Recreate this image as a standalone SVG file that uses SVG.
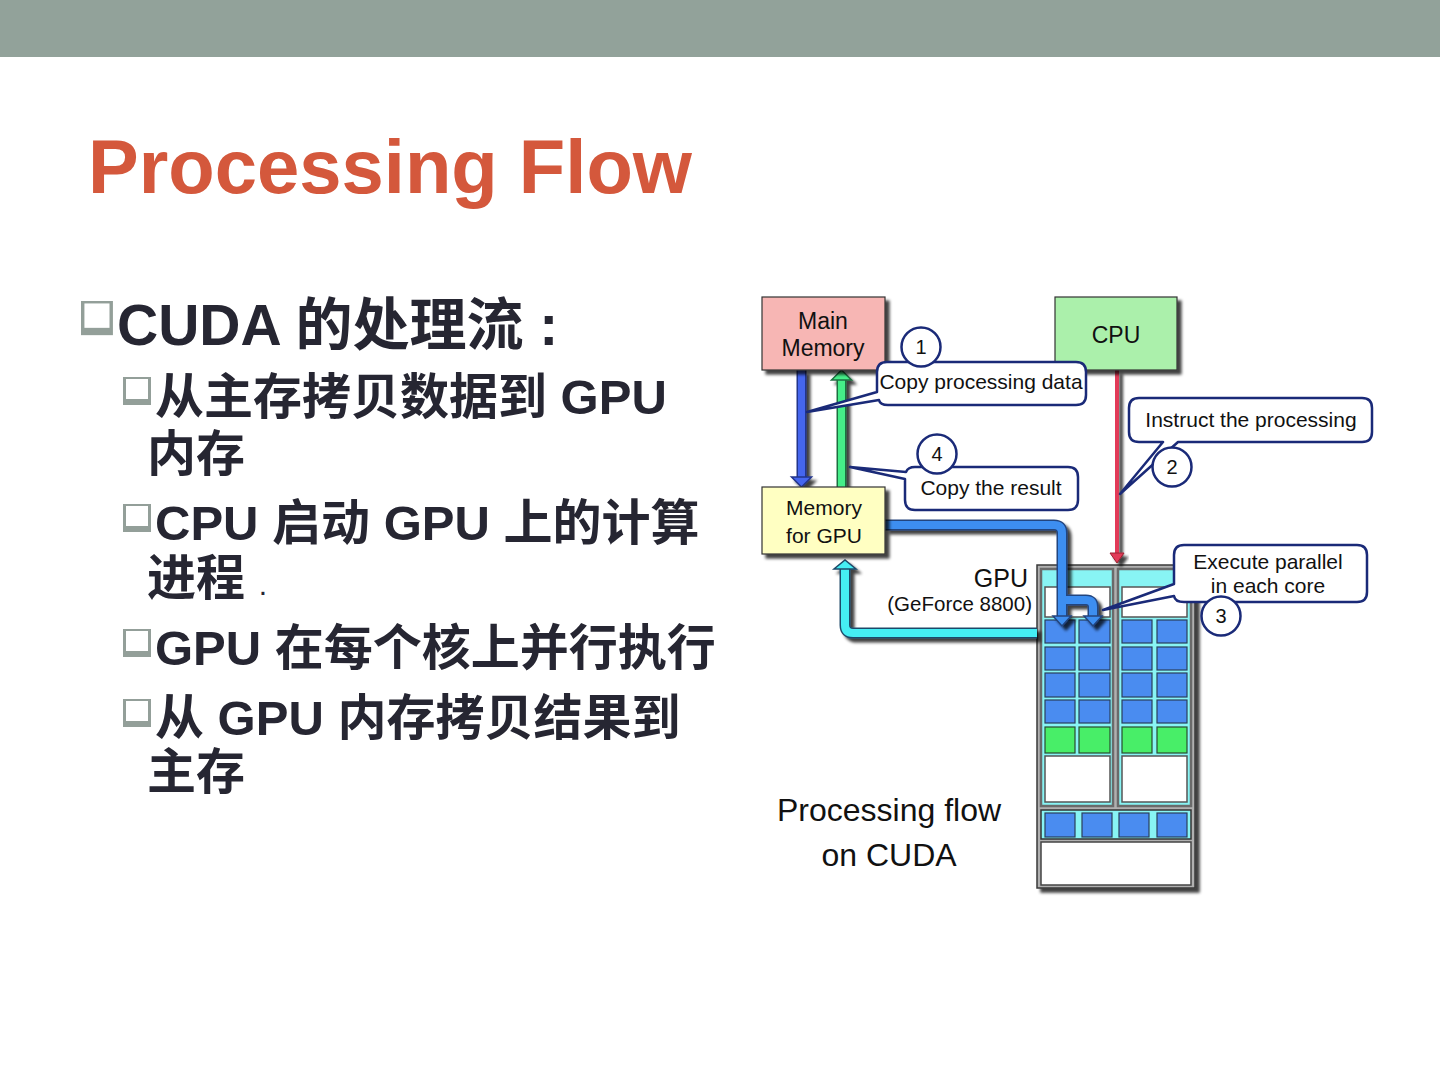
<svg xmlns="http://www.w3.org/2000/svg" width="1440" height="1080" viewBox="0 0 1440 1080">
<defs>
<filter id="sh" x="-20%" y="-20%" width="150%" height="150%">
<feGaussianBlur in="SourceAlpha" stdDeviation="1.8"/>
<feOffset dx="4" dy="4" result="b"/>
<feComponentTransfer><feFuncA type="linear" slope="0.75"/></feComponentTransfer>
<feMerge><feMergeNode/><feMergeNode in="SourceGraphic"/></feMerge>
</filter>
<g id="bul">
<rect x="0" y="0" width="28" height="28" fill="#939f99"/>
<rect x="3" y="2" width="22" height="20" fill="#ffffff"/>
</g>
</defs>
<style>
.lt{font-family:"Liberation Sans","Noto Sans CJK SC",sans-serif;font-weight:bold;fill:#262632}
.dg{font-family:"Liberation Sans","Noto Sans",sans-serif;fill:#111111}
.box{stroke:#333333;stroke-width:1.2}
.co{fill:#ffffff;stroke:#1a2a78;stroke-width:2.5;stroke-linejoin:round}
.cell{fill:#4a8cf0;stroke:#2a3f5a;stroke-width:1.2}
.gcell{fill:#48ee68;stroke:#2a4a30;stroke-width:1.2}
.wbox{fill:#ffffff;stroke:#555555;stroke-width:1.5}
.cl{fill:#88f4f4;stroke:#6a6a6a;stroke-width:2.5}
</style>
<rect x="0" y="0" width="1440" height="1080" fill="#ffffff"/>
<rect x="0" y="0" width="1440" height="57" fill="#92a29a"/>
<text x="88" y="193" font-family="Liberation Sans, Arial, sans-serif" font-weight="bold" font-size="76" fill="#d4583c">Processing Flow</text>

<g id="bullets">
<g transform="translate(81,301) scale(1.14,1.22)"><use href="#bul"/></g>
<text class="lt" x="117" y="345" font-size="57">CUDA 的处理流 :</text>
<use href="#bul" x="123" y="377"/>
<text class="lt" x="155" y="414" font-size="49">从主存拷贝数据到 GPU</text>
<text class="lt" x="147" y="471" font-size="49">内存</text>
<use href="#bul" x="123" y="504"/>
<text class="lt" x="155" y="540" font-size="49">CPU 启动 GPU 上的计算</text>
<text class="lt" x="147" y="595" font-size="49">进程 <tspan font-size="30" font-weight="normal">.</tspan></text>
<use href="#bul" x="123" y="629"/>
<text class="lt" x="155" y="665" font-size="49">GPU 在每个核上并行执行</text>
<use href="#bul" x="123" y="699"/>
<text class="lt" x="155" y="735" font-size="49">从 GPU 内存拷贝结果到</text>
<text class="lt" x="147" y="789" font-size="49">主存</text>
</g>

<g id="gpu">
<rect x="1037" y="565" width="158" height="323" fill="#b0b0b0" stroke="#3a3a3a" stroke-width="1.5" filter="url(#sh)"/>
<rect class="cl" x="1041" y="569" width="72" height="237"/>
<rect class="cl" x="1118" y="569" width="73" height="237"/>
<rect class="wbox" x="1045" y="587" width="65" height="30"/>
<rect class="wbox" x="1122" y="587" width="65" height="30"/>
<g>
<rect class="cell" x="1045" y="620" width="30" height="23"/><rect class="cell" x="1079" y="620" width="31" height="23"/>
<rect class="cell" x="1122" y="620" width="30" height="23"/><rect class="cell" x="1157" y="620" width="30" height="23"/>
<rect class="cell" x="1045" y="647" width="30" height="23"/><rect class="cell" x="1079" y="647" width="31" height="23"/>
<rect class="cell" x="1122" y="647" width="30" height="23"/><rect class="cell" x="1157" y="647" width="30" height="23"/>
<rect class="cell" x="1045" y="673" width="30" height="24"/><rect class="cell" x="1079" y="673" width="31" height="24"/>
<rect class="cell" x="1122" y="673" width="30" height="24"/><rect class="cell" x="1157" y="673" width="30" height="24"/>
<rect class="cell" x="1045" y="700" width="30" height="23"/><rect class="cell" x="1079" y="700" width="31" height="23"/>
<rect class="cell" x="1122" y="700" width="30" height="23"/><rect class="cell" x="1157" y="700" width="30" height="23"/>
<rect class="gcell" x="1045" y="727" width="30" height="26"/><rect class="gcell" x="1079" y="727" width="31" height="26"/>
<rect class="gcell" x="1122" y="727" width="30" height="26"/><rect class="gcell" x="1157" y="727" width="30" height="26"/>
</g>
<rect class="wbox" x="1045" y="756" width="65" height="46"/>
<rect class="wbox" x="1122" y="756" width="65" height="46"/>
<rect x="1041" y="810" width="150" height="29" fill="#88f4f4" stroke="#333333" stroke-width="1.5"/>
<rect class="cell" x="1045" y="813" width="30" height="24"/>
<rect class="cell" x="1082" y="813" width="30" height="24"/>
<rect class="cell" x="1119" y="813" width="30" height="24"/>
<rect class="cell" x="1157" y="813" width="30" height="24"/>
<rect x="1041" y="842" width="150" height="43" fill="#ffffff" stroke="#444444" stroke-width="1.5"/>
<text class="dg" x="1028" y="587" font-size="25" text-anchor="end">GPU</text>
<text class="dg" x="1032" y="611" font-size="20.5" text-anchor="end">(GeForce 8800)</text>
</g>

<g id="connectors" fill="none">
<g filter="url(#sh)">
<path d="M801.5 370 V478" stroke="#22348a" stroke-width="10"/>
<path d="M801.5 370 V478" stroke="#4466ee" stroke-width="7"/>
<polygon points="791.5,477 811.5,477 801.5,487" fill="#4466ee" stroke="#22348a" stroke-width="1.5"/>
<path d="M841.5 487 V379" stroke="#1f7040" stroke-width="10"/>
<path d="M841.5 487 V379" stroke="#44ee88" stroke-width="7"/>
<polygon points="831.5,380 851.5,380 841.5,370" fill="#44ee88" stroke="#1f7040" stroke-width="1.5"/>
</g>
<g filter="url(#sh)">
<path d="M885 525 H1054 Q1062 525 1062 533 V617 M1062 600 H1086 Q1093 600 1093 607 V617" stroke="#23447e" stroke-width="11" stroke-linejoin="round"/>
<path d="M885 525 H1054 Q1062 525 1062 533 V617 M1062 600 H1086 Q1093 600 1093 607 V617" stroke="#3d8ef0" stroke-width="8" stroke-linejoin="round"/>
<polygon points="1053,616 1071,616 1062,626" fill="#3d8ef0" stroke="#23447e" stroke-width="1.5"/>
<polygon points="1084,616 1102,616 1093,626" fill="#3d8ef0" stroke="#23447e" stroke-width="1.5"/>
</g>
<g filter="url(#sh)">
<path d="M1037 633 H853 Q845 633 845 625 V569" stroke="#1e4a6a" stroke-width="11" stroke-linejoin="round"/>
<path d="M1037 633 H853 Q845 633 845 625 V569" stroke="#44eef4" stroke-width="8" stroke-linejoin="round"/>
<polygon points="834,569 856,569 845,560" fill="#44eef4" stroke="#1e4a6a" stroke-width="1.5"/>
</g>
<g filter="url(#sh)">
<path d="M1117 370 V554" stroke="#e23a58" stroke-width="4"/>
<polygon points="1110,553 1124,553 1117,563" fill="#e23a58" stroke="#9a2030" stroke-width="1"/>
</g>
</g>

<g id="main-memory">
<rect class="box" x="762" y="297" width="123" height="73" fill="#f7b6b4" filter="url(#sh)"/>
<text class="dg" x="823" y="329" font-size="23" text-anchor="middle">Main</text>
<text class="dg" x="823" y="356" font-size="23" text-anchor="middle">Memory</text>
</g>
<g id="cpu">
<rect class="box" x="1055" y="297" width="122" height="73" fill="#abf0ab" filter="url(#sh)"/>
<text class="dg" x="1116" y="343" font-size="23" text-anchor="middle">CPU</text>
</g>
<g id="gpu-memory">
<rect class="box" x="762" y="487" width="123" height="67" fill="#ffffc2" filter="url(#sh)"/>
<text class="dg" x="824" y="515" font-size="21" text-anchor="middle">Memory</text>
<text class="dg" x="824" y="543" font-size="21" text-anchor="middle">for GPU</text>
</g>

<g id="callout-1">
<path class="co" d="M887 362 H1076 Q1086 362 1086 372 V395 Q1086 405 1076 405 H888 Q880 405 879 400 L807 412 L877 392 V372 Q877 362 887 362 Z"/>
<text class="dg" x="981" y="389" font-size="21" text-anchor="middle">Copy processing data</text>
<circle class="co" cx="921" cy="347" r="19.5"/>
<text class="dg" x="921" y="354" font-size="20" text-anchor="middle">1</text>
</g>
<g id="callout-4">
<path class="co" d="M915 467 H1068 Q1078 467 1078 477 V500 Q1078 510 1068 510 H915 Q905 510 905 500 V479 L850 467 L906 472 Q908 467 915 467 Z"/>
<text class="dg" x="991" y="495" font-size="21" text-anchor="middle">Copy the result</text>
<circle class="co" cx="937" cy="454" r="19.5"/>
<text class="dg" x="937" y="461" font-size="20" text-anchor="middle">4</text>
</g>
<g id="callout-2">
<path class="co" d="M1139 398 H1362 Q1372 398 1372 408 V432 Q1372 442 1362 442 H1178 L1120 494 L1163 442 H1139 Q1129 442 1129 432 V408 Q1129 398 1139 398 Z"/>
<text class="dg" x="1251" y="427" font-size="21" text-anchor="middle">Instruct the processing</text>
<circle class="co" cx="1172" cy="467" r="19.5"/>
<text class="dg" x="1172" y="474" font-size="20" text-anchor="middle">2</text>
</g>
<g id="callout-3">
<path class="co" d="M1184 545 H1357 Q1367 545 1367 555 V592 Q1367 602 1357 602 H1184 Q1175 602 1174 596 L1103 610 L1174 584 V555 Q1174 545 1184 545 Z"/>
<text class="dg" x="1268" y="569" font-size="21" text-anchor="middle">Execute parallel</text>
<text class="dg" x="1268" y="593" font-size="21" text-anchor="middle">in each core</text>
<circle class="co" cx="1221" cy="616" r="19.5"/>
<text class="dg" x="1221" y="623" font-size="20" text-anchor="middle">3</text>
</g>

<g id="caption">
<text class="dg" x="889" y="821" font-size="32" text-anchor="middle">Processing flow</text>
<text class="dg" x="889" y="866" font-size="32" text-anchor="middle">on CUDA</text>
</g>
</svg>
